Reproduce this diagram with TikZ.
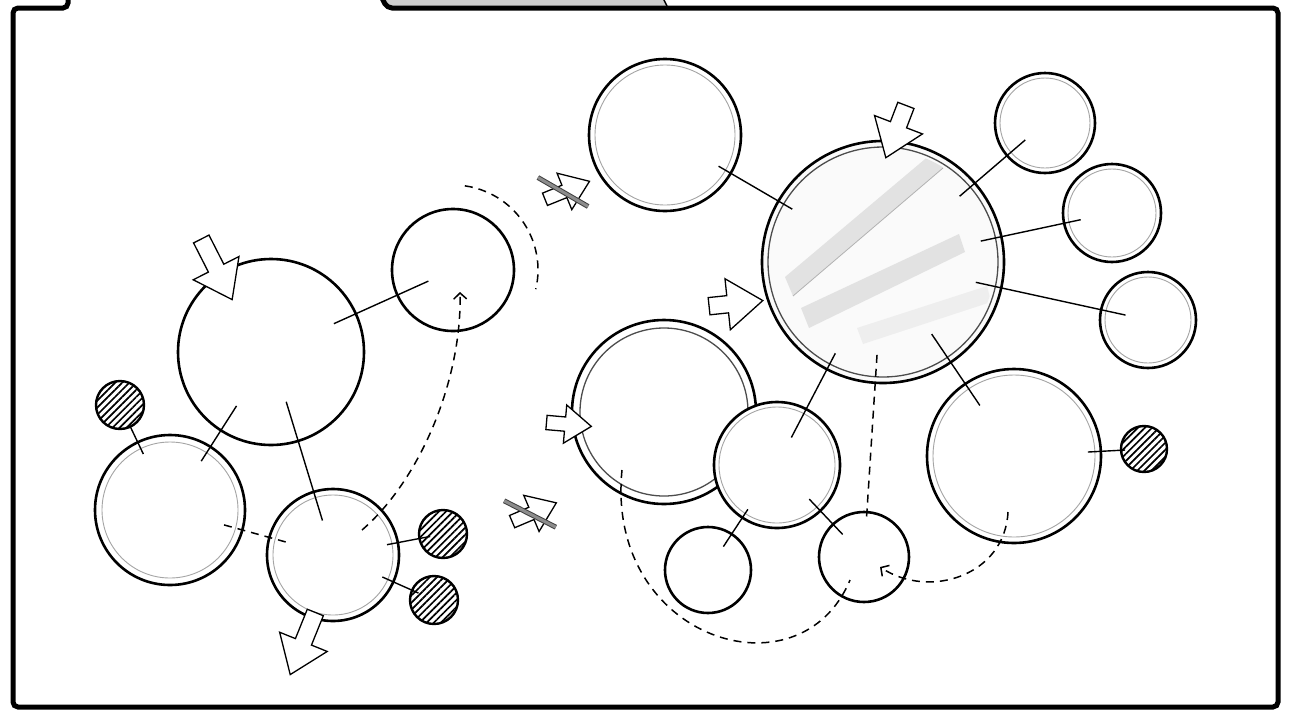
\documentclass[tikz,border=0pt]{standalone}
\usepackage{tikz}
\usetikzlibrary{shapes.arrows, arrows.meta, patterns.meta, calc}
\definecolor{ringgray}{RGB}{165,165,165}
\definecolor{tabgray}{RGB}{206,206,206}
\definecolor{bandgray}{RGB}{226,226,226}
\definecolor{bargray}{RGB}{140,140,140}

\begin{document}
\begin{tikzpicture}[x=1pt, y=-1pt,
  bubble/.style={circle, draw=black, fill=white, line width=2.6pt, inner sep=0pt, outer sep=0pt, minimum size=#1},
  ring/.style={path picture={\draw[ringgray, line width=0.9pt] (path picture bounding box.center) circle (#1);}},
  darkring/.style={path picture={\draw[black!70, line width=1.3pt] (path picture bounding box.center) circle (#1);}},
  seed/.style={circle, draw=black, line width=2.4pt, inner sep=0pt, outer sep=0pt, minimum size=48pt, pattern={Lines[angle=45, distance=5pt, line width=1.7pt]}},
  spoke/.style={line width=1.4pt},
  trail/.style={line width=1.5pt, dash pattern=on 8pt off 6pt},
  push/.style={single arrow, draw=black, fill=white, line width=1.3pt, inner sep=8pt, single arrow head extend=17pt, single arrow tip angle=72, minimum height=#1},
  bar/.style={line width=1pt, draw=black!75, double=bargray, double distance=3pt}
]
\useasboundingbox (0,0) rectangle (1291,710);
\clip (0,0) rectangle (1291,710);

% frame and tabs
\fill[tabgray] (381,-6) -- (388,6) -- (667,6) -- (661,-6) -- cycle;
\draw[line width=1.5pt] (661,-6) -- (667,6);
\draw[line width=5pt, rounded corners=5pt] (68,-6) -- (68,8) -- (13,8) -- (13,707) -- (1278,707) -- (1278,8) -- (387,8) -- (380,-6);

% left group
\node[bubble=186pt] (l1) at (271,352) {};
\node[bubble=122pt] (l2) at (453,270) {};
\node[bubble=150pt, ring=68pt] (l3) at (170,510) {};
\node[bubble=132pt, ring=60pt] (l4) at (333,555) {};
\node[seed] (s1) at (120,405) {};
\node[seed] (s2) at (443,534) {};
\node[seed] (s3) at (434,600) {};

% right group
\node[bubble=152pt, ring=70pt] (r1) at (665,135) {};
\node[bubble=242pt, fill=gray!4, darkring=115pt] (r2) at (883,262) {};
\node[bubble=100pt, ring=45pt] (r3) at (1045,123) {};
\node[bubble=98pt, ring=44pt] (r4) at (1112,213) {};
\node[bubble=96pt, ring=43pt] (r5) at (1148,320) {};
\node[bubble=184pt, darkring=84pt] (r6) at (664,412) {};
\node[bubble=126pt, ring=58pt] (r7) at (777,465) {};
\node[bubble=174pt, ring=81pt] (r8) at (1014,456) {};
\node[bubble=86pt] (r9) at (708,570) {};
\node[bubble=90pt] (r10) at (864,557) {};
\node[seed, minimum size=46pt] (s4) at (1144,449) {};

% shading bands in the big circle
\begin{scope}[shift={(r2.center)}]
\clip (0,0) circle (112pt);
\fill[bandgray] (-98,15) -- (48,-108) -- (60,-94) -- (-90,34) -- cycle;
\fill[bandgray] (-82,46) -- (76,-28) -- (82,-10) -- (-74,66) -- cycle;
\fill[bandgray!60] (-26,66) -- (104,24) -- (108,40) -- (-20,82) -- cycle;
\draw[gray!60, line width=0.8pt] (-90,34) -- (60,-94);
\end{scope}

% spokes
\draw[spoke, shorten <=69pt, shorten >=27pt] (l1.center) -- (l2.center);
\draw[spoke, shorten <=64pt, shorten >=58pt] (l1.center) -- (l3.center);
\draw[spoke, shorten <=52pt, shorten >=36pt] (l1.center) -- (l4.center);
\draw[spoke, shorten >=-13pt] (s1) -- (l3);
\draw[spoke, shorten <=55pt, shorten >=13pt] (l4.center) -- (s2.center);
\draw[spoke, shorten <=54pt, shorten >=17pt] (l4.center) -- (s3.center);
\draw[spoke, shorten <=62pt, shorten >=105pt] (r1.center) -- (r2.center);
\draw[spoke, shorten <=101pt, shorten >=26pt] (r2.center) -- (r3.center);
\draw[spoke, shorten <=100pt, shorten >=32pt] (r2.center) -- (r4.center);
\draw[spoke, shorten <=95pt, shorten >=23pt] (r2.center) -- (r5.center);
\draw[spoke, shorten <=103pt, shorten >=31pt] (r2.center) -- (r7.center);
\draw[spoke, shorten <=87pt, shorten >=61pt] (r2.center) -- (r8.center);
\draw[spoke, shorten <=53pt, shorten >=28pt] (r7.center) -- (r9.center);
\draw[spoke, shorten <=47pt, shorten >=31pt] (r7.center) -- (r10.center);
\draw[spoke, shorten <=74pt, shorten >=19pt] (r8.center) -- (s4.center);

% dashed trails
\draw[trail, shorten <=56pt, shorten >=49pt] (l3.center) -- (l4.center);
\draw[trail, -{Straight Barb[length=6pt, width=13pt]}] ($(l4.center)+(29,-25)$) .. controls +(58,-50) and +(2,88) .. ($(l2.center)+(7,22)$);
\draw[trail] (l2.center) ++(82:85pt) arc (82:-13:85pt);
\draw[trail, shorten <=93pt, shorten >=35pt] (r2.center) -- (r10.center);
\draw[trail] ($(r6.center)+(-42,58)$) .. controls +(-17,170) and +(-50,120) .. ($(r10.center)+(-14,23)$);
\draw[trail, -{Straight Barb[length=6pt, width=13pt]}] ($(r8.center)+(-6,56)$) .. controls +(-3,63) and +(50,33) .. ($(r10.center)+(16,10)$);

% block arrows
\node[push=68pt, rotate=-63] (p1) at (214,264) {};
\node[push=67pt, rotate=-112] (p2) at (305,638) {};
\node[push=56pt, rotate=-111] (p3) at (898,126) {};
\node[push=54pt, rotate=6] (p4) at (730,304) {};
\node[push=45pt, rotate=-5, inner sep=6.5pt, single arrow head extend=12pt] (p5) at (564,424) {};
\node[push=48pt, rotate=22, inner sep=6pt, single arrow head extend=13pt] (x1) at (563,192) {};
\node[push=48pt, rotate=23, inner sep=6pt, single arrow head extend=13pt] (x2) at (530,514) {};
\draw[bar] ($(x1.center)+(150:29pt)$) -- ($(x1.center)+(-30:29pt)$);
\draw[bar] ($(x2.center)+(153:29pt)$) -- ($(x2.center)+(-27:29pt)$);
\end{tikzpicture}
\end{document}
